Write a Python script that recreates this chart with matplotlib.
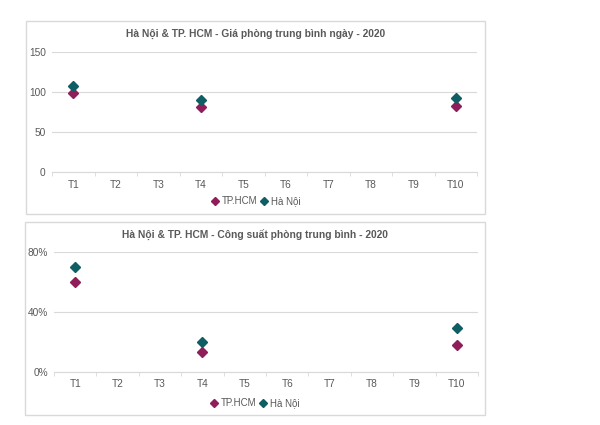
import matplotlib.pyplot as plt
from matplotlib.patches import Rectangle
from matplotlib.ticker import FuncFormatter

plt.rcParams['font.family'] = ['Liberation Sans', 'DejaVu Sans']

# Data
months = ["T1", "T2", "T3", "T4", "T5", "T6", "T7", "T8", "T9", "T10"]
price_hcm = [99, None, None, 81, None, None, None, None, None, 83]
price_hn = [108, None, None, 90, None, None, None, None, None, 93]
occ_hcm = [0.60, None, None, 0.13, None, None, None, None, None, 0.18]
occ_hn = [0.70, None, None, 0.20, None, None, None, None, None, 0.29]

title_top = "Hà Nội & TP. HCM - Giá phòng trung bình ngày - 2020"
title_bottom = "Hà Nội & TP. HCM - Công suất phòng trung bình - 2020"

c_hcm = "#8E1D5A"
c_hn = "#0E5E63"
txt = "#595959"
grid = "#D9D9D9"

W, H = 600, 425
fig = plt.figure(figsize=(W / 100, H / 100), dpi=100)


def px(x0, y0, x1, y1):
    # pixel box (top-left origin) -> figure fraction
    return [x0 / W, 1 - y1 / H, (x1 - x0) / W, (y1 - y0) / H]


def panel(box, plot_box, title, title_y, legend_y, hcm, hn, ylim, yticks, fmt):
    b = px(*box)
    fig.patches.append(Rectangle((b[0], b[1]), b[2], b[3], transform=fig.transFigure,
                                 facecolor="none", edgecolor="#D9D9D9", lw=1, zorder=-1))
    ax = fig.add_axes(px(*plot_box))
    ax.patch.set_alpha(0)
    x = list(range(len(months)))
    xh = [i for i, v in zip(x, hcm) if v is not None]
    yh = [v for v in hcm if v is not None]
    xn = [i for i, v in zip(x, hn) if v is not None]
    yn = [v for v in hn if v is not None]
    ax.plot(xh, yh, ls="none", marker="D", ms=4.8, color=c_hcm, label="TP.HCM", zorder=3)
    ax.plot(xn, yn, ls="none", marker="D", ms=4.8, color=c_hn, label="Hà Nội", zorder=3)
    ax.set_xlim(-0.5, len(months) - 0.5)
    ax.set_ylim(*ylim)
    ax.set_yticks(yticks)
    ax.yaxis.set_major_formatter(FuncFormatter(fmt))
    ax.set_xticks(x)
    ax.set_xticklabels(months)
    ax.set_xticks([i - 0.5 for i in range(len(months) + 1)], minor=True)
    ax.tick_params(axis="x", which="major", length=0, labelsize=7.3, colors=txt, pad=5.5)
    ax.tick_params(axis="x", which="minor", length=3, color=grid)
    ax.tick_params(axis="y", length=0, labelsize=7.3, colors=txt, pad=4.5)
    ax.grid(axis="y", color=grid, lw=0.8)
    for s in ["top", "right", "left"]:
        ax.spines[s].set_visible(False)
    ax.spines["bottom"].set_color(grid)
    ax.set_axisbelow(True)
    cx = (b[0] + b[2] / 2)
    fig.text(cx, 1 - title_y / H, title, ha="center", va="center",
             fontsize=7.4, fontweight="bold", color=txt)
    fig.legend(*ax.get_legend_handles_labels(), loc="center",
               bbox_to_anchor=(cx, 1 - legend_y / H), ncol=2, frameon=False,
               fontsize=7, labelcolor=txt, handlelength=0.8, handletextpad=0.3,
               columnspacing=0.3, markerscale=0.8)
    return ax


panel((26, 21, 485, 214), (52, 52, 477, 172), title_top, 34, 201,
      price_hcm, price_hn, (0, 150), [0, 50, 100, 150], lambda v, p: f"{v:.0f}")
panel((25, 222, 485, 415), (54, 251.7, 478, 371.7), title_bottom, 235, 403,
      occ_hcm, occ_hn, (0, 0.8), [0, 0.4, 0.8], lambda v, p: f"{v:.0%}")

fig.savefig("out.png", dpi=100, facecolor="white")
